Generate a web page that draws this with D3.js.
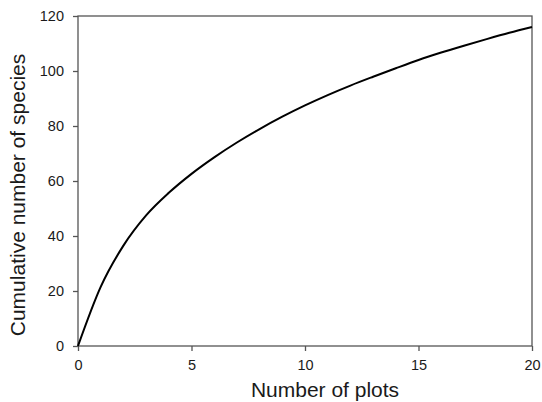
<!DOCTYPE html>
<html>
<head>
<meta charset="utf-8">
<script src="https://cdn.jsdelivr.net/npm/d3@7"></script>
<style>
  html, body { margin: 0; padding: 0; background: #fff; }
  svg { display: block; }
  text { font-family: "Liberation Sans", Arial, Helvetica, sans-serif; fill: #1a1a1a; }
</style>
</head>
<body>
<svg id="chart" width="542" height="402"></svg>
<script>
// Data
const plots = [0, 1, 2, 3, 4, 5, 6, 7, 8, 9, 10, 11, 12, 13, 14, 15, 16, 17, 18, 19, 20];
const species = [0, 21.5, 36.5, 47.5, 55.7, 62.6, 68.6, 74.0, 78.9, 83.4, 87.5, 91.25, 94.7, 97.9, 101.0, 104.0, 106.7, 109.2, 111.6, 113.9, 116];
const xTicks = [0, 5, 10, 15, 20];
const yTicks = [0, 20, 40, 60, 80, 100, 120];
const xLabel = "Number of plots";
const yLabel = "Cumulative number of species";

const W = 542, H = 402;
const m = { left: 78, right: 10, top: 16, bottom: 56 };
const iw = W - m.left - m.right, ih = H - m.top - m.bottom;

const svg = d3.select("#chart");
const g = svg.append("g").attr("transform", `translate(${m.left},${m.top})`);

const x = d3.scaleLinear().domain([0, 20]).range([0, iw]);
const y = d3.scaleLinear().domain([0, 120]).range([ih, 0]);

const axisColor = "#555";

// X axis
const gx = g.append("g").attr("transform", `translate(0,${ih})`)
  .call(d3.axisBottom(x).tickValues(xTicks).tickSize(5).tickPadding(9).tickFormat(d3.format("d")));
// Y axis
const gy = g.append("g")
  .call(d3.axisLeft(y).tickValues(yTicks).tickSize(5).tickPadding(9).tickFormat(d3.format("d")));

[gx, gy].forEach(a => {
  a.select(".domain").remove();
  a.selectAll(".tick line").attr("stroke", axisColor).attr("stroke-width", 1.3);
  a.selectAll(".tick text").style("font-size", "14.5px").style("font-family", '"Liberation Sans", Arial, sans-serif').attr("fill", "#1a1a1a");
});

// Frame
g.append("rect").attr("x", 0).attr("y", 0).attr("width", iw).attr("height", ih)
  .attr("fill", "none").attr("stroke", axisColor).attr("stroke-width", 1.3);

// Curve
const line = d3.line().x((d, i) => x(plots[i])).y(d => y(d)).curve(d3.curveMonotoneX);
g.append("path").datum(species).attr("d", line)
  .attr("fill", "none").attr("stroke", "#000").attr("stroke-width", 2);

// Axis titles
svg.append("text").attr("x", 325).attr("y", 397)
  .attr("text-anchor", "middle").style("font-size", "21px").text(xLabel);
svg.append("text").attr("transform", `translate(25,195) rotate(-90)`)
  .attr("text-anchor", "middle").style("font-size", "21px").text(yLabel);
</script>
</body>
</html>
